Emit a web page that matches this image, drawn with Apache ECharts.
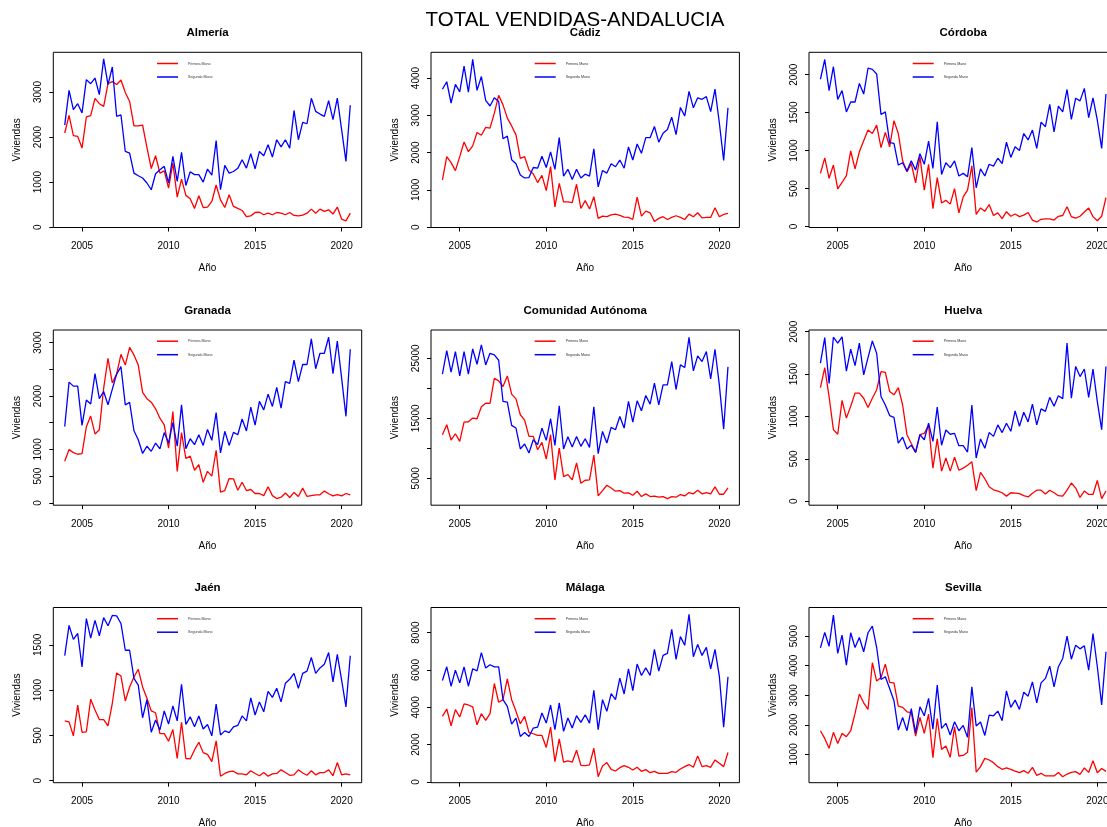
<!DOCTYPE html>
<html lang="es">
<head>
<meta charset="UTF-8">
<title>TOTAL VENDIDAS-ANDALUCIA</title>
<style>
  html, body { margin: 0; padding: 0; background: #fff; overflow: hidden; }
  #chart { width: 1107px; height: 827px; }
</style>
</head>
<body>
<div id="chart"></div>
<script src="https://cdn.jsdelivr.net/npm/echarts@6/dist/echarts.min.js"></script>
<script>
// trimestres 2004T1 .. 2020T3
var startYear = 2004
var quarters = []
for (var i = 0; i < 67; i++) quarters.push(startYear + i / 4)

var xTicks = [2005, 2010, 2015, 2020]

var panelNames = ['Almería', 'Cádiz', 'Córdoba', 'Granada', 'Comunidad Autónoma', 'Huelva', 'Jaén', 'Málaga', 'Sevilla']
var seriesNames = ['Primera Mano', 'Segunda Mano']

var almeriaPrimera = [2090, 2480, 2030, 2015, 1755, 2445, 2475, 2860, 2740, 2680, 3185, 3230, 3165, 3265, 2990, 2790,
  2250, 2250, 2265, 1770, 1300, 1585, 1200, 1250, 865, 1420, 665, 1065, 705, 630, 415, 695,
  435, 445, 570, 935, 605, 435, 720, 460, 415, 370, 235, 250, 325, 330, 275, 310,
  275, 325, 310, 275, 325, 260, 250, 265, 310, 400, 310, 400, 350, 385, 290, 445, 180, 140, 310]
var almeriaSegunda = [2265, 3035, 2610, 2740, 2535, 3275, 3185, 3310, 2940, 3735, 3165, 3555, 2460, 2490, 1680, 1645,
  1200, 1140, 1090, 980, 830, 1185, 1275, 1350, 980, 1570, 1015, 1660, 925, 1230, 1165, 1165,
  1000, 1290, 1155, 1920, 830, 1370, 1200, 1235, 1305, 1495, 1310, 1630, 1295, 1680, 1585, 1830,
  1555, 1940, 1780, 1940, 1755, 2590, 1940, 2325, 2295, 2860, 2570, 2510, 2460, 2810, 2385, 2865, 2165, 1460, 2705]

var cadizPrimera = [1265, 1890, 1730, 1515, 1890, 2285, 2025, 2180, 2540, 2465, 2675, 2655, 3060, 3535, 3280, 2925,
  2715, 2475, 1845, 1890, 1535, 1425, 1195, 1390, 980, 1625, 545, 1175, 680, 680, 655, 1150,
  500, 710, 485, 815, 235, 295, 280, 330, 350, 315, 270, 260, 205, 805, 295, 430,
  385, 150, 235, 280, 205, 260, 305, 260, 205, 350, 280, 385, 250, 260, 260, 520, 280, 340, 370]
var cadizSegunda = [3700, 3900, 3330, 3830, 3630, 4320, 3620, 4500, 3670, 4040, 3400, 3250, 3470, 3370, 2370, 2440,
  1810, 1700, 1400, 1320, 1330, 1600, 1580, 1900, 1600, 2020, 1550, 2400, 1370, 1550, 1280, 1550,
  1320, 1420, 1370, 2100, 1080, 1520, 1450, 1700, 1620, 1800, 1580, 2150, 1800, 2230, 1980, 2400,
  2400, 2700, 2280, 2520, 2620, 2950, 2480, 3210, 2980, 3640, 3200, 3470, 3430, 3500, 3100, 3700, 2800, 1790, 3200]

var cordobaPrimera = [700, 905, 635, 810, 495, 580, 670, 995, 760, 985, 1130, 1270, 1225, 1335, 1040, 1240,
  1050, 1395, 1225, 865, 720, 830, 575, 920, 480, 820, 235, 645, 310, 345, 295, 500,
  180, 390, 480, 800, 160, 245, 200, 290, 145, 180, 105, 195, 135, 165, 130, 150,
  185, 85, 60, 95, 100, 100, 85, 135, 145, 260, 130, 110, 135, 190, 245, 130, 75, 135, 380]
var cordobaSegunda = [1940, 2200, 1790, 2105, 1675, 1790, 1510, 1640, 1640, 1885, 1745, 2085, 2070, 2010, 1475, 1510,
  1105, 1095, 810, 840, 730, 865, 745, 960, 820, 1125, 765, 1380, 685, 840, 775, 865,
  665, 700, 655, 1040, 510, 760, 665, 820, 795, 900, 830, 1110, 910, 1050, 1000, 1225,
  1140, 1270, 1030, 1375, 1315, 1610, 1245, 1585, 1510, 1805, 1410, 1690, 1655, 1820, 1435, 1695, 1400, 1030, 1745]

var granadaPrimera = [780, 1000, 940, 910, 920, 1425, 1625, 1290, 1370, 2145, 2705, 2245, 2415, 2780, 2580, 2910,
  2770, 2580, 2070, 1950, 1885, 1760, 1585, 1460, 1025, 1710, 590, 1315, 830, 875, 610, 715,
  385, 590, 500, 985, 200, 230, 455, 450, 235, 385, 230, 250, 175, 175, 135, 300,
  135, 80, 105, 185, 100, 195, 120, 275, 120, 135, 150, 150, 220, 170, 130, 155, 130, 175, 150]
var granadaSegunda = [1430, 2260, 2185, 2185, 1450, 1925, 1850, 2420, 1950, 2085, 1835, 2130, 2410, 2550, 1835, 1880,
  1350, 1180, 925, 1060, 965, 1120, 1010, 1315, 1120, 1500, 1060, 1835, 1015, 1200, 1090, 1275,
  1075, 1375, 1170, 1690, 935, 1340, 1075, 1320, 1275, 1570, 1345, 1790, 1455, 1900, 1740, 2035,
  1805, 2160, 1775, 2270, 2235, 2670, 2270, 2590, 2590, 3070, 2510, 2800, 2800, 3100, 2420, 3030, 2335, 1620, 2875]

var comunidadPrimera = [12260, 13920, 11370, 12420, 11150, 14360, 14420, 15030, 14920, 16910, 17520, 17470, 21680, 21230, 20290, 22060,
  19020, 18240, 15580, 14700, 11980, 11980, 9760, 10980, 8210, 12260, 4720, 10040, 5280, 5610, 4720, 7550,
  4170, 4670, 4720, 8880, 2060, 2950, 3840, 3390, 2840, 2950, 2510, 2560, 2170, 2840, 1950, 2400,
  1950, 2010, 1840, 1950, 1620, 1950, 1840, 2290, 2060, 2620, 2400, 3010, 2400, 2620, 2400, 3560, 2340, 2340, 3390]
var comunidadSegunda = [22340, 26270, 22670, 26110, 22060, 26110, 22340, 26550, 24000, 27220, 23890, 25830, 25550, 24670, 17800, 17690,
  13810, 13370, 9880, 10710, 9210, 11430, 10600, 13370, 11320, 14920, 10480, 17080, 9880, 11930, 10210, 11980,
  10320, 11590, 10150, 16910, 9100, 12810, 10870, 13480, 13090, 15300, 13370, 17800, 14360, 17910, 16250, 18790,
  17350, 20840, 17240, 20570, 20570, 24450, 19790, 23890, 23450, 28490, 22890, 25390, 24450, 26110, 21570, 26500, 20570, 13200, 23560]

var huelvaPrimera = [1340, 1575, 1235, 845, 790, 1190, 980, 1120, 1275, 1275, 1215, 1105, 1215, 1315, 1530, 1520,
  1295, 1255, 1340, 1135, 785, 680, 580, 785, 800, 895, 390, 735, 355, 510, 355, 520,
  365, 390, 425, 465, 125, 340, 265, 170, 135, 120, 100, 60, 100, 95, 90, 65,
  50, 95, 130, 130, 85, 130, 100, 65, 60, 130, 215, 155, 45, 120, 80, 80, 245, 30, 120]
var huelvaSegunda = [1630, 1930, 1390, 1935, 1865, 1940, 1535, 1795, 1600, 1865, 1490, 1695, 1890, 1745, 1235, 1135,
  1010, 990, 685, 755, 615, 660, 575, 785, 725, 920, 705, 1110, 660, 840, 790, 800,
  655, 655, 580, 1135, 510, 735, 625, 810, 765, 900, 810, 920, 825, 1065, 885, 1050,
  935, 1145, 900, 1090, 1060, 1225, 1120, 1245, 1210, 1865, 1215, 1590, 1470, 1560, 1225, 1560, 1175, 845, 1590]

var jaenPrimera = [660, 650, 495, 835, 535, 540, 900, 780, 675, 675, 605, 855, 1190, 1155, 880, 1035,
  1145, 1230, 1035, 910, 770, 750, 520, 520, 435, 565, 245, 645, 245, 240, 340, 425,
  310, 290, 210, 440, 50, 80, 100, 105, 75, 75, 65, 110, 80, 55, 90, 50,
  75, 80, 120, 90, 60, 65, 120, 85, 60, 110, 65, 90, 90, 120, 55, 200, 65, 75, 65]
var jaenSegunda = [1380, 1715, 1560, 1625, 1255, 1790, 1575, 1770, 1600, 1800, 1710, 1825, 1820, 1735, 1440, 1440,
  1130, 1055, 695, 895, 535, 670, 560, 770, 625, 825, 660, 1065, 620, 705, 595, 715,
  570, 620, 495, 845, 505, 550, 530, 595, 610, 715, 660, 915, 725, 870, 760, 985,
  920, 1020, 870, 1075, 1120, 1185, 1020, 1185, 1210, 1360, 1185, 1245, 1285, 1415, 1090, 1395, 1110, 815, 1380]

var malagaPrimera = [3515, 3910, 3015, 3875, 3480, 4180, 4125, 4020, 3065, 3660, 3300, 3660, 5275, 4270, 4410, 5525,
  4410, 3785, 3120, 3515, 2655, 2585, 2495, 2495, 1850, 2940, 1095, 2315, 1060, 1130, 1060, 1705,
  895, 880, 915, 1810, 285, 860, 1040, 680, 590, 770, 880, 790, 645, 790, 575, 665,
  500, 575, 465, 465, 465, 555, 520, 700, 825, 935, 790, 1400, 825, 880, 790, 1185, 1005, 825, 1580]
var malagaSegunda = [5435, 6170, 5130, 5990, 5310, 6170, 5130, 6065, 5955, 6925, 6100, 6280, 6170, 6170, 4410, 4055,
  3105, 3425, 2440, 2655, 2440, 2890, 2940, 3695, 3155, 4125, 2800, 4235, 2710, 3425, 2890, 3550,
  3195, 3605, 3155, 4915, 2800, 4410, 3785, 4735, 4410, 5560, 4715, 6065, 4895, 6315, 5705, 6115,
  5705, 7105, 5935, 6780, 6890, 8180, 6565, 7785, 7320, 8985, 6710, 7370, 6780, 7210, 6065, 7105, 5670, 2940, 5630]

var sevillaPrimera = [1800, 1540, 1205, 1745, 1370, 1710, 1600, 1800, 2385, 3040, 2745, 2520, 4100, 3480, 3600, 4055,
  3435, 3420, 2635, 2590, 2440, 2410, 1620, 2250, 1710, 2365, 890, 2215, 1170, 1280, 900, 1935,
  945, 965, 1070, 2580, 400, 585, 865, 810, 720, 585, 495, 540, 495, 435, 380, 450,
  360, 560, 290, 360, 270, 270, 270, 390, 245, 335, 390, 415, 325, 540, 390, 785, 380, 525, 425]
var sevillaSegunda = [4605, 5125, 4660, 5710, 4415, 5035, 4020, 5115, 4615, 4955, 4470, 5115, 5340, 4615, 3535, 3625,
  3230, 2815, 1820, 2250, 1800, 2545, 1730, 2610, 2305, 2895, 1855, 3345, 1880, 2050, 1655, 2105,
  1800, 1980, 1575, 3285, 1960, 2095, 1640, 2330, 2305, 2465, 2140, 3150, 2590, 2835, 2520, 3105,
  2970, 3455, 2745, 3420, 3570, 3985, 3285, 3965, 4245, 5000, 4220, 4695, 4570, 4675, 3850, 5090, 3965, 2670, 4470]

var primera = [almeriaPrimera, cadizPrimera, cordobaPrimera, granadaPrimera, comunidadPrimera, huelvaPrimera, jaenPrimera, malagaPrimera, sevillaPrimera]
var segunda = [almeriaSegunda, cadizSegunda, cordobaSegunda, granadaSegunda, comunidadSegunda, huelvaSegunda, jaenSegunda, malagaSegunda, sevillaSegunda]

// rango del eje y y marcas de cada panel
var yRanges = [[-8, 3881], [-10, 4690], [-13, 2295], [-44, 3236], [512, 29709], [-47, 2020], [-22, 1912], [-36, 9345], [42, 5969]]
var yTicks = [
  [0, 1000, 2000, 3000],
  [0, 1000, 2000, 3000, 4000],
  [0, 500, 1000, 1500, 2000],
  [0, 500, 1000, 1500, 2000, 2500, 3000],
  [5000, 10000, 15000, 20000, 25000],
  [0, 500, 1000, 1500, 2000],
  [0, 500, 1000, 1500],
  [0, 2000, 4000, 6000, 8000],
  [1000, 2000, 3000, 4000, 5000]
]
var yTickLabels = [
  [0, 1000, 2000, 3000],
  [0, 1000, 2000, 3000, 4000],
  [0, 500, 1000, 1500, 2000],
  [0, 500, 1000, 2000, 3000],
  [5000, 15000, 25000],
  [0, 500, 1000, 1500, 2000],
  [0, 500, 1000, 1500],
  [0, 2000, 4000, 6000, 8000],
  [1000, 2000, 3000, 4000, 5000]
]

var font = "'Liberation Sans', Arial, Helvetica, sans-serif"
var colLeft = [53.3, 431, 809]
var rowTop = [52.3, 330, 607.5]
var boxW = 308.4
var boxH = 175.2

function buildOption() {
  var grids = [], xAxes = [], yAxes = [], series = [], titles = [], legends = []

  titles.push({
    text: 'TOTAL VENDIDAS-ANDALUCIA', left: 575, top: 10, textAlign: 'center', padding: 0,
    textStyle: { fontSize: 20.5, fontWeight: 'normal', color: '#000', fontFamily: font }
  })

  for (var p = 0; p < 9; p++) {
    var boxLeft = colLeft[p % 3]
    var boxTop = rowTop[Math.floor(p / 3)]

    // la tercera columna queda cortada por el borde derecho, como en el original
    grids.push({ left: boxLeft, top: boxTop, width: boxW, height: boxH, show: true, borderColor: '#000', borderWidth: 1, outerBoundsMode: 'none', containLabel: false })

    xAxes.push({
      type: 'value', gridIndex: p, min: 2003.34, max: 2021.16,
      axisLine: { show: false, onZero: false },
      splitLine: { show: false },
      axisTick: { show: true, inside: false, length: 4, lineStyle: { color: '#000' }, customValues: xTicks },
      axisLabel: { customValues: xTicks, margin: 14, fontSize: 10, color: '#000', fontFamily: font, formatter: function (v) { return String(v) } },
      name: 'Año', nameLocation: 'middle', nameGap: 36,
      nameTextStyle: { fontSize: 10, color: '#000', fontFamily: font }
    })

    yAxes.push({
      type: 'value', gridIndex: p, min: yRanges[p][0], max: yRanges[p][1],
      axisLine: { show: false, onZero: false },
      splitLine: { show: false },
      axisTick: { show: true, inside: false, length: 4, lineStyle: { color: '#000' }, customValues: yTicks[p] },
      axisLabel: { customValues: yTickLabels[p], rotate: 90, margin: 10, fontSize: 10, color: '#000', fontFamily: font, formatter: function (v) { return String(v) } },
      name: 'Viviendas', nameLocation: 'middle', nameGap: 31,
      nameTextStyle: { fontSize: 10, color: '#000', fontFamily: font }
    })

    titles.push({
      text: panelNames[p], left: boxLeft + boxW / 2, top: boxTop - 25.5, textAlign: 'center', padding: 0,
      textStyle: { fontSize: 11.5, fontWeight: 'bold', color: '#000', fontFamily: font }
    })

    legends.push({
      data: seriesNames, left: boxLeft + 103.7, top: boxTop + 9.2, orient: 'vertical', padding: 0,
      itemWidth: 21, itemHeight: 1.5, itemGap: 9.5, icon: 'rect', selectedMode: false,
      textStyle: { fontSize: 3.6, color: '#333', fontFamily: font, padding: [0, 0, 0, 5] }
    })

    series.push({
      name: seriesNames[0], type: 'line', xAxisIndex: p, yAxisIndex: p, showSymbol: false, silent: true,
      data: quarters.map(function (q, j) { return [q, primera[p][j]] }),
      lineStyle: { color: '#ff0000', width: 1.3 }, itemStyle: { color: '#ff0000' }
    })
    series.push({
      name: seriesNames[1], type: 'line', xAxisIndex: p, yAxisIndex: p, showSymbol: false, silent: true,
      data: quarters.map(function (q, j) { return [q, segunda[p][j]] }),
      lineStyle: { color: '#0000ff', width: 1.3 }, itemStyle: { color: '#0000ff' }
    })
  }

  return {
    animation: false,
    backgroundColor: '#fff',
    textStyle: { fontFamily: font },
    title: titles,
    legend: legends,
    grid: grids,
    xAxis: xAxes,
    yAxis: yAxes,
    series: series
  }
}

var myChart = echarts.init(document.getElementById('chart'))
myChart.setOption(buildOption())
</script>
</body>
</html>
